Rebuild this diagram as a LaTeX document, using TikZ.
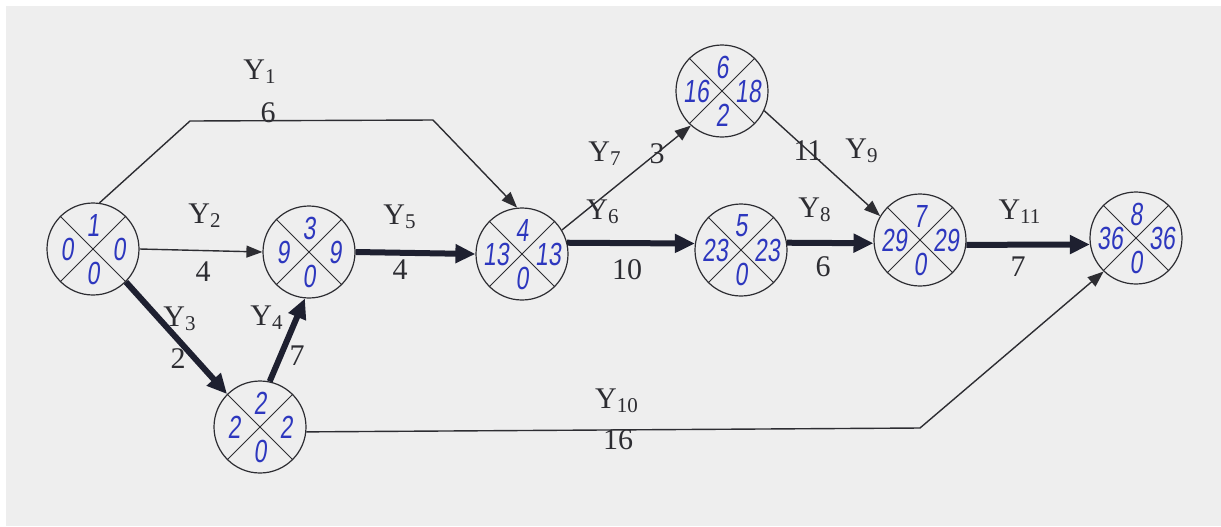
\documentclass[tikz,border=0pt]{standalone}
\usepackage{fontspec}
\setmainfont{Liberation Serif}
\newfontfamily\handfont[FakeStretch=0.72,FakeSlant=0.12]{Liberation Sans}
\usetikzlibrary{arrows.meta}
\definecolor{pertink}{RGB}{45,55,190}
\definecolor{pertline}{RGB}{45,45,50}
\definecolor{pertcrit}{RGB}{30,32,48}
\definecolor{pertpaper}{RGB}{238,238,238}
\tikzset{
  event/.style={circle,draw=pertline,line width=.6pt,minimum size=46pt,inner sep=0pt},
  evnum/.style={font=\handfont\fontsize{16}{16}\selectfont,text=pertink,inner sep=0pt},
  thinact/.style={draw=pertline,line width=.7pt,-{Triangle[length=8pt,width=6pt]}},
  critact/.style={draw=pertcrit,line width=3pt,-{Triangle[length=10pt,width=9pt]}},
  actlab/.style={font=\fontsize{15}{16}\selectfont,text=pertline,inner sep=0pt},
}
% #1 name, #2 position, #3 event, #4 earliest, #5 latest, #6 slack
\newcommand\pertevent[6]{%
  \node[event] (#1) at #2 {};
  \draw[line width=.5pt,pertline] (#1.45) -- (#1.225) (#1.135) -- (#1.315);
  \node[evnum] (#1t) at ([yshift=12pt]#1.center) {#3};
  \node[evnum] (#1l) at ([xshift=-13pt]#1.center) {#4};
  \node[evnum] (#1r) at ([xshift=13pt]#1.center) {#5};
  \node[evnum] (#1b) at ([yshift=-12pt]#1.center) {#6};
}
\newcommand\actname[1]{Y\textsubscript{#1}}
\begin{document}
\begin{tikzpicture}[x=.5pt,y=-.5pt]
\path[use as bounding box] (0,0) rectangle (1221,526);
\fill[pertpaper] (6,6) rectangle (1221,526);
% events
\pertevent{n1}{(93,249)}{1}{0}{0}{0}
\pertevent{n2}{(260,427)}{2}{2}{2}{0}
\pertevent{n3}{(309,252)}{3}{9}{9}{0}
\pertevent{n4}{(522,254)}{4}{13}{13}{0}
\pertevent{n5}{(741,250)}{5}{23}{23}{0}
\pertevent{n6}{(722,91)}{6}{16}{18}{2}
\pertevent{n7}{(920,240)}{7}{29}{29}{0}
\pertevent{n8}{(1136,238)}{8}{36}{36}{0}
% activities
\coordinate (b1) at (190,121);
\coordinate (b2) at (433,120);
\coordinate (b3) at (920,428);
\draw[thinact] (n1.82) -- (b1) -- (b2) -- (n4.96);
\draw[thinact] (n1.east) -- (n3.west);
\draw[critact] (n1.-45) -- (n2.135);
\draw[critact] (n2.78) -- (n3.265);
\draw[critact] (n3.east) -- (n4.west);
\draw[critact] (n4.14) -- (n5.172);
\draw[thinact] (n4.31) -- (n6.228);
\draw[critact] (n5.9) -- (n7.184);
\draw[thinact] (n6.-25) -- (n7.149);
\draw[thinact] (n2.-6) -- (b3) -- (n8.226);
\draw[critact] (n7.-6) -- (n8.188);
% names and durations
\node[actlab] (y1) at (260,72) {\actname{1}};
\node[actlab] (d1) at (268,113) {6};
\node[actlab] (y2) at (205,216) {\actname{2}};
\node[actlab] (d2) at (203,272) {4};
\node[actlab] (y3) at (180,319) {\actname{3}};
\node[actlab] (d3) at (178,359) {2};
\node[actlab] (y4) at (267,318) {\actname{4}};
\node[actlab] (d4) at (297,356) {7};
\node[actlab] (y5) at (400,217) {\actname{5}};
\node[actlab] (d5) at (400,270) {4};
\node[actlab] (y6) at (603,212) {\actname{6}};
\node[actlab] (d6) at (627,270) {10};
\node[actlab] (y7) at (605,154) {\actname{7}};
\node[actlab] (d7) at (657,154) {3};
\node[actlab] (y8) at (815,210) {\actname{8}};
\node[actlab] (d8) at (823,267) {6};
\node[actlab] (y9) at (862,151) {\actname{9}};
\node[actlab] (d9) at (808,151) {11};
\node[actlab] (y10) at (617,401) {\actname{10}};
\node[actlab] (d10) at (618,440) {16};
\node[actlab] (y11) at (1020,212) {\actname{11}};
\node[actlab] (d11) at (1018,267) {7};
\end{tikzpicture}
\end{document}
